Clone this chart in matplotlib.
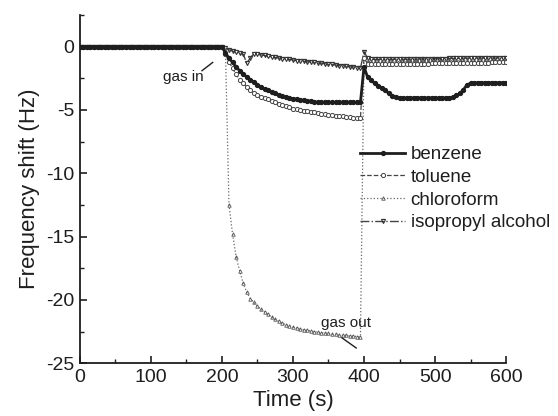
import matplotlib
matplotlib.use("Agg")
import matplotlib.pyplot as plt
import numpy as np
from matplotlib.ticker import MultipleLocator

plt.rcParams['font.family'] = ['Liberation Sans', 'DejaVu Sans']
plt.rcParams['axes.unicode_minus'] = False

# sampling grid (s)
time = np.arange(0, 605, 5)

# flat baseline before the gas is let in (0..195 s)
baseline = [0, 0, 0, 0, 0, 0, 0, 0, 0, 0,
            0, 0, 0, 0, 0, 0, 0, 0, 0, 0,
            0, 0, 0, 0, 0, 0, 0, 0, 0, 0,
            0, 0, 0, 0, 0, 0, 0, 0, 0, 0]

# 200..600 s
benzene = baseline + [
    0, -0.5, -0.9, -1.25, -1.6, -1.9, -2.15, -2.4, -2.6, -2.8,
    -3.0, -3.2, -3.35, -3.45, -3.6, -3.7, -3.8, -3.9, -4.0, -4.05,
    -4.1, -4.15, -4.2, -4.25, -4.3, -4.3, -4.35, -4.4, -4.4,
    -4.4, -4.4, -4.4, -4.4, -4.4, -4.4, -4.4, -4.4, -4.4, -4.4, -4.4,
    -1.6, -2.4, -2.65, -2.9, -3.1, -3.25, -3.45, -3.7, -3.9, -4.0, -4.05,
    -4.05, -4.05, -4.05, -4.05, -4.05, -4.05, -4.05, -4.05, -4.05, -4.05,
    -4.05, -4.05, -4.05, -4.05,
    -4.0, -3.85, -3.7, -3.4, -3.0, -2.9,
    -2.85, -2.85, -2.85, -2.85, -2.85, -2.85, -2.85, -2.85, -2.85, -2.85]

toluene = baseline + [
    0, -0.6, -1.2, -1.7, -2.2, -2.6, -2.9, -3.2, -3.45, -3.65,
    -3.8, -3.95, -4.05, -4.15, -4.3, -4.4, -4.5, -4.6, -4.7, -4.8,
    -4.9, -4.95, -5.0, -5.05, -5.1, -5.15, -5.2, -5.25, -5.3, -5.35,
    -5.4, -5.4, -5.45, -5.5, -5.5, -5.55, -5.55, -5.6, -5.6, -5.65,
    -0.9, -1.35, -1.4, -1.4, -1.4, -1.4, -1.4, -1.4, -1.4, -1.38,
    -1.38, -1.37, -1.37, -1.36, -1.36, -1.35, -1.35, -1.34, -1.34, -1.33,
    -1.33, -1.32, -1.32, -1.31, -1.31, -1.3, -1.3, -1.3, -1.29, -1.29,
    -1.28, -1.28, -1.27, -1.27, -1.26, -1.26, -1.25, -1.25, -1.25, -1.25,
    -1.25]

chloroform = baseline + [
    0, -0.3, -12.5, -14.8, -16.6, -17.7, -18.7, -19.4, -19.9, -20.2,
    -20.5, -20.75, -20.95, -21.15, -21.35, -21.55, -21.7, -21.85, -21.95, -22.05,
    -22.15, -22.2, -22.3, -22.35, -22.4, -22.45, -22.5, -22.55, -22.6, -22.6,
    -22.65, -22.7, -22.7, -22.75, -22.8, -22.8, -22.85, -22.85, -22.9, -22.9,
    -0.8, -1.15, -1.2, -1.2, -1.2, -1.2, -1.2, -1.2, -1.2, -1.2,
    -1.18, -1.18, -1.17, -1.17, -1.16, -1.16, -1.15, -1.15, -1.14, -1.14,
    -1.13, -1.13, -1.12, -1.12, -1.11, -1.11, -1.1, -1.1, -1.1, -1.1,
    -1.1, -1.1, -1.1, -1.1, -1.1, -1.1, -1.1, -1.1, -1.1, -1.1,
    -1.1]

isopropyl = baseline + [
    0, -0.1, -0.25, -0.35, -0.45, -0.5, -0.6, -1.3, -0.9, -0.55,
    -0.6, -0.65, -0.7, -0.75, -0.8, -0.85, -0.9, -0.95, -1.0, -1.0,
    -1.05, -1.1, -1.1, -1.15, -1.2, -1.2, -1.25, -1.3, -1.3, -1.35,
    -1.4, -1.4, -1.45, -1.5, -1.5, -1.55, -1.6, -1.6, -1.65, -1.7,
    -0.4, -0.9, -1.0, -1.0, -1.0, -1.0, -1.0, -1.0, -1.0, -1.0,
    -1.0, -1.0, -0.99, -0.99, -0.98, -0.98, -0.97, -0.97, -0.96, -0.96,
    -0.95, -0.95, -0.94, -0.94, -0.93, -0.93, -0.92, -0.92, -0.91, -0.91,
    -0.9, -0.9, -0.9, -0.9, -0.9, -0.9, -0.9, -0.9, -0.9, -0.9,
    -0.9]

ink = '#1e1e1e'

fig = plt.figure(figsize=(5.58, 4.16), dpi=100)
ax = fig.add_axes([0.143, 0.127, 0.764, 0.837])

ax.plot(time, isopropyl, linestyle='-.', color='#444444', lw=1.0, marker='v',
        markersize=3, markerfacecolor='none', markeredgecolor='#333333',
        markeredgewidth=0.8, label='isopropyl alcohol', zorder=2)
ax.plot(time, chloroform, linestyle=':', color='#666666', lw=0.9, marker='^',
        markersize=2.5, markerfacecolor='none', markeredgecolor='#555555',
        markeredgewidth=0.6, label='chloroform', zorder=2)
ax.plot(time, toluene, linestyle='--', color='#444444', lw=0.9, marker='o',
        markersize=3, markerfacecolor='white', markeredgecolor='#444444',
        markeredgewidth=0.7, label='toluene', zorder=3)
ax.plot(time, benzene, linestyle='-', color=ink, lw=2.0, marker='o',
        markersize=2.8, markerfacecolor=ink, markeredgecolor=ink,
        label='benzene', zorder=4)

ax.set_xlim(0, 600)
ax.set_ylim(-25, 2.5)
ax.xaxis.set_major_locator(MultipleLocator(100))
ax.xaxis.set_minor_locator(MultipleLocator(50))
ax.yaxis.set_major_locator(MultipleLocator(5))
ax.yaxis.set_minor_locator(MultipleLocator(2.5))
ax.set_yticks([0, -5, -10, -15, -20, -25])

for s in ['top', 'right']:
    ax.spines[s].set_visible(False)
for s in ['left', 'bottom']:
    ax.spines[s].set_linewidth(1.3)
    ax.spines[s].set_color(ink)

ax.tick_params(which='major', direction='in', length=5, width=1.2,
               labelsize=14, colors=ink, pad=4)
ax.tick_params(which='minor', direction='in', length=3, width=1.0, colors=ink)

ax.set_xlabel('Time (s)', fontsize=16, color=ink, labelpad=3)
ax.set_ylabel('Frequency shift (Hz)', fontsize=16, color=ink, labelpad=4)

# annotations
ax.text(145, -2.4, 'gas in', fontsize=11, color=ink, ha='center', va='center')
ax.plot([172, 187], [-1.9, -1.25], color=ink, lw=1)
ax.text(374, -21.8, 'gas out', fontsize=11, color=ink, ha='center', va='center')
ax.plot([369, 389], [-23.0, -23.8], color=ink, lw=1)

handles, labels = ax.get_legend_handles_labels()
order = [3, 2, 1, 0]
leg = ax.legend([handles[i] for i in order], [labels[i] for i in order],
                loc='upper left', bbox_to_anchor=(360 / 558, (416 - 146) / 416),
                bbox_transform=fig.transFigure, frameon=False, fontsize=13.5,
                numpoints=1, handlelength=2.4, handletextpad=0.3,
                labelspacing=0.3, borderpad=0, borderaxespad=0)
for t in leg.get_texts():
    t.set_color(ink)

fig.savefig('out.png', dpi=100)
